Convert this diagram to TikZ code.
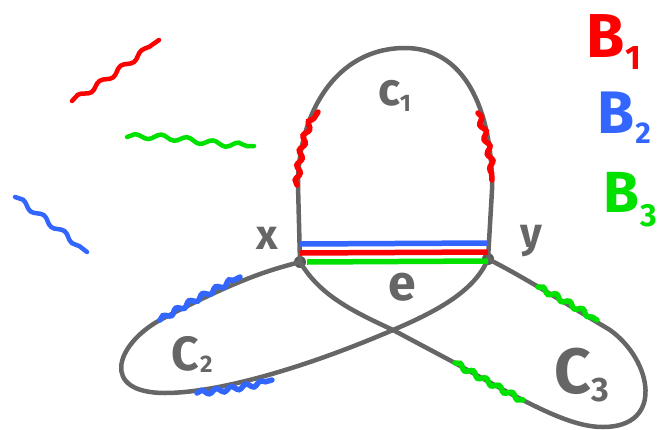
\documentclass[tikz,border=0pt]{standalone}
\usepackage{fontspec}
\setmainfont{Fira Sans}
\usetikzlibrary{decorations.pathmorphing}
\definecolor{pengray}{RGB}{102,102,102}
\definecolor{penred}{RGB}{255,0,0}
\definecolor{penblue}{RGB}{51,102,255}
\definecolor{pengreen}{RGB}{0,225,0}
\newcommand{\fsz}[1]{\fontsize{#1}{#1}\selectfont}

\begin{document}
\begin{tikzpicture}[x=1pt, y=-1pt,
    vertex/.style={circle, fill=pengray!85!black, inner sep=0pt, minimum size=12pt},
    edge/.style={pengray, line width=4.5pt, line join=round},
    wiggle/.style={line width=5.5pt, line cap=round, decorate,
        decoration={snake, amplitude=2.2pt, segment length=15pt}},
    scribble/.style={line width=4.5pt, line cap=round, decorate,
        decoration={snake, amplitude=2.5pt, segment length=26pt}},
    chord/.style={line width=5.5pt},
    lbl/.style={text=pengray, inner sep=0pt, font=\bfseries}
]
\useasboundingbox (0,0) rectangle (662,429);

% Define vertices
\node[vertex] (x) at (300,262) {};
\node[vertex] (y) at (488,259) {};
\coordinate (cross) at (393,330);

% Define cycles
\draw[edge] (x.center) -- (298,185) .. controls (298,115) and (335,48) .. (405,48)
    .. controls (470,48) and (493,120) .. (492,190) -- (y.center);
\draw[edge] (x.center) .. controls (270,270) and (240,278) .. (160,320)
    .. controls (115,345) and (100,393) .. (165,393)
    .. controls (215,393) and (300,370) .. (cross)
    .. controls (440,310) and (475,290) .. (y.center);
\draw[edge] (y.center) .. controls (520,275) and (560,300) .. (610,330)
    .. controls (652,360) and (665,427) .. (603,427)
    .. controls (570,427) and (530,405) .. (455,363)
    -- (cross) .. controls (350,310) and (320,295) .. (x.center);

% Define chord e
\draw[chord, penblue] ([yshift=18pt]x.center) -- ([yshift=16pt]y.center);
\draw[chord, penred] ([yshift=9pt]x.center) -- ([yshift=7pt]y.center);
\draw[chord, pengreen] ([xshift=7pt, yshift=0pt]x.center) -- ([yshift=-2pt]y.center);

% Define pieces of the bridges
\draw[wiggle, penred] (297,185) .. controls (300,150) and (306,130) .. (318,112);
\draw[wiggle, penred] (478,113) .. controls (486,135) and (491,160) .. (492,180);
\draw[wiggle, penblue] (160,320) .. controls (190,302) and (215,290) .. (240,277);
\draw[wiggle, penblue] (197,393) .. controls (225,390) and (250,386) .. (272,380);
\draw[wiggle, pengreen] (538,287) .. controls (560,298) and (580,310) .. (597,320);
\draw[wiggle, pengreen] (455,363) .. controls (478,376) and (500,389) .. (523,400);

% Define loose bridges
\draw[scribble, penred] (72,101) .. controls (100,85) and (130,60) .. (159,40);
\draw[scribble, pengreen] (127,137) .. controls (170,135) and (200,146) .. (254,146);
\draw[scribble, penblue] (15,197) .. controls (40,215) and (65,235) .. (87,252);

% Define labels
\node[lbl, anchor=base] (lx) at (267,249) {\fsz{42}x};
\node[lbl, anchor=base] (ly) at (531,247) {\fsz{42}y};
\node[lbl, anchor=base] (le) at (402,300) {\fsz{50}e};
\node[lbl, anchor=base] (lc1) at (395,105) {\fsz{46}c\kern-1pt\raisebox{-6pt}{\fsz{24}1}};
\node[lbl, anchor=base] (lc2) at (192,370) {\fsz{48}C\kern1pt\raisebox{-2pt}{\fsz{24}2}};
\node[lbl, anchor=base] (lc3) at (582,393) {\fsz{64}C\kern0pt\raisebox{-8pt}{\fsz{34}3}};
\node[anchor=base, text=penred, inner sep=0pt, font=\bfseries] (b1) at (614,57) {\fsz{62}B\kern1pt\raisebox{-12pt}{\fsz{34}1}};
\node[anchor=base, text=penblue, inner sep=0pt, font=\bfseries] (b2) at (624,133) {\fsz{60}B\kern1pt\raisebox{-10pt}{\fsz{30}2}};
\node[anchor=base, text=pengreen, inner sep=0pt, font=\bfseries] (b3) at (630,212) {\fsz{58}B\kern1pt\raisebox{-14pt}{\fsz{32}3}};

\end{tikzpicture}
\end{document}
